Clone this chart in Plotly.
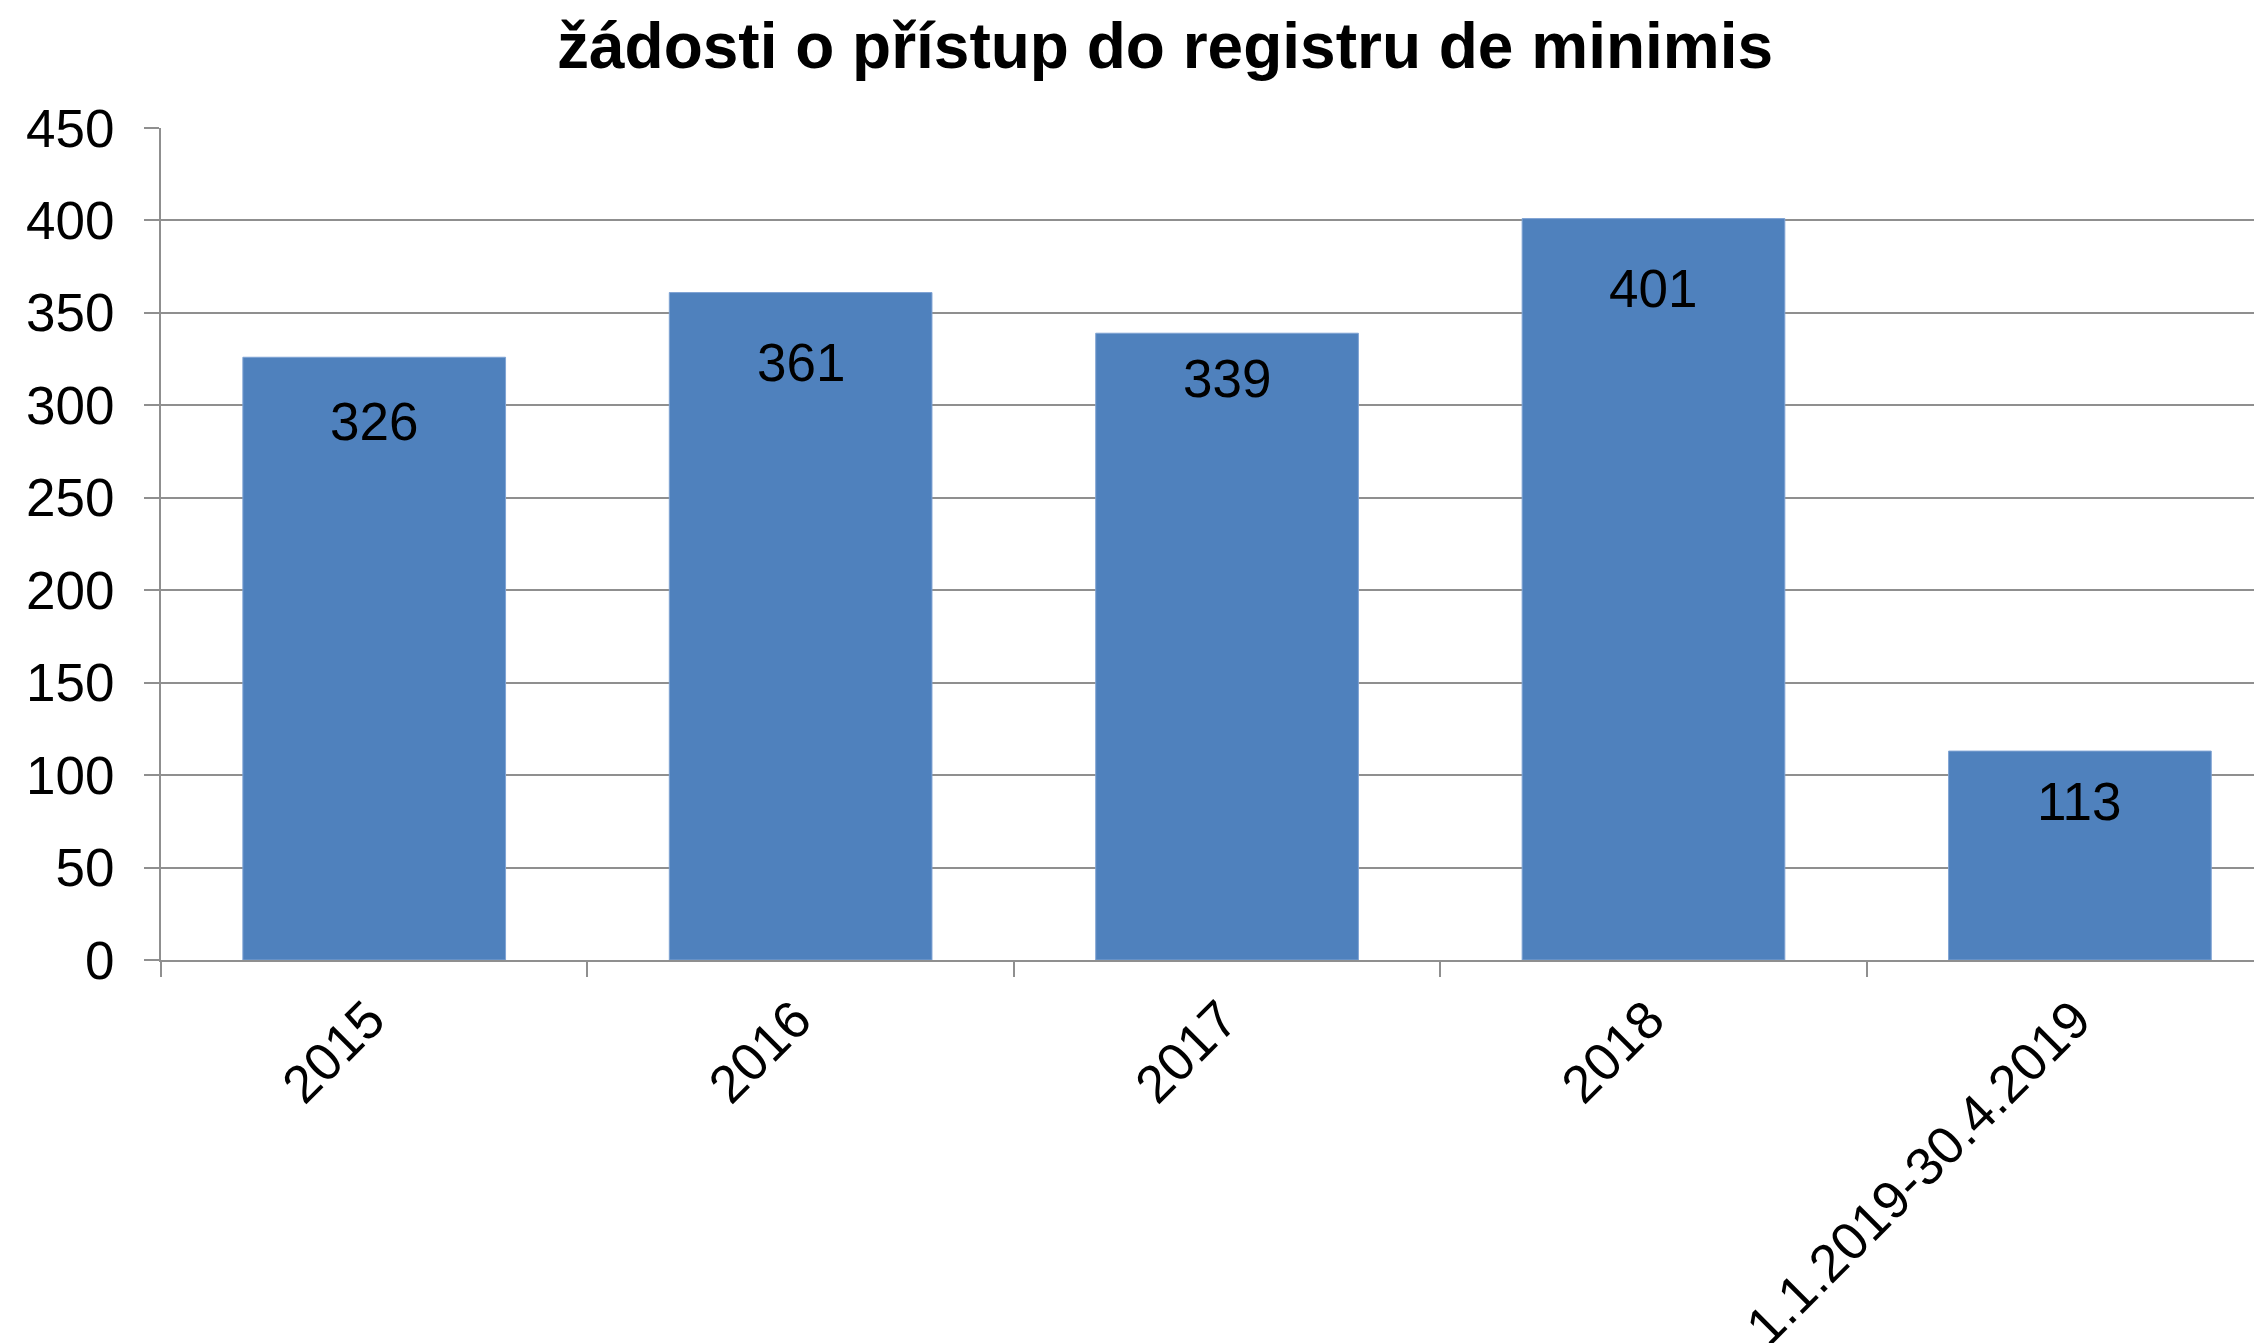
import plotly.graph_objects as go

categories = ["2015", "2016", "2017", "2018", "1.1.2019-30.4.2019"]
values = [326, 361, 339, 401, 113]
y_ticks = [0, 50, 100, 150, 200, 250, 300, 350, 400, 450]
title_text = "žádosti o přístup do registru de minimis"

# styling: vertical offsets (px) of the data labels below each bar top
label_shift = [-64, -70, -45, -70, -50]

FONT = "Liberation Sans, Arial, sans-serif"
GRID = "#8f8f8f"

# the page body adds an 8px margin, so the figure is sized to fit the viewport
W, H = 2254, 1335

fig = go.Figure()
fig.add_trace(go.Bar(
    x=categories,
    y=values,
    width=0.616,
    marker=dict(color="#4F81BD", line=dict(color="#7FA3D3", width=1)),
    hoverinfo="skip",
))

for i, v in enumerate(values):
    fig.add_annotation(
        x=i, y=v, xref="x", yref="y", text=str(v), showarrow=False,
        yshift=label_shift[i], yanchor="middle",
        font=dict(family=FONT, size=53, color="black"),
    )

fig.update_layout(
    width=W, height=H,
    margin=dict(l=153, r=0, t=120, b=383, autoexpand=False),
    paper_bgcolor="white", plot_bgcolor="white",
    showlegend=False,
    title=dict(
        text="<b>" + title_text + "</b>",
        x=1157 / W, xanchor="center", xref="container",
        y=1 - 38 / H, yanchor="middle", yref="container",
        font=dict(family=FONT, size=64, color="black"),
    ),
    font=dict(family=FONT, color="black"),
)

fig.update_xaxes(
    type="category",
    categoryorder="array", categoryarray=categories,
    range=[-0.5, 4.427],
    automargin=False,
    tickangle=-45,
    tickfont=dict(family=FONT, size=53, color="black"),
    showgrid=False,
    showline=True, linecolor=GRID, linewidth=2,
    ticks="outside", tickson="boundaries", ticklen=15, tickcolor=GRID, tickwidth=2,
    ticklabelstandoff=5, ticklabelshift=-5,
    zeroline=False,
)
fig.update_yaxes(
    range=[0, 450],
    automargin=False,
    tickmode="array",
    tickvals=y_ticks,
    tickfont=dict(family=FONT, size=53, color="black"),
    showgrid=True, gridcolor=GRID, gridwidth=2,
    showline=True, linecolor=GRID, linewidth=2,
    ticks="outside", ticklen=15, tickcolor=GRID, tickwidth=2,
    ticklabelstandoff=19,
    zeroline=False,
)

fig.write_html("out.html")
